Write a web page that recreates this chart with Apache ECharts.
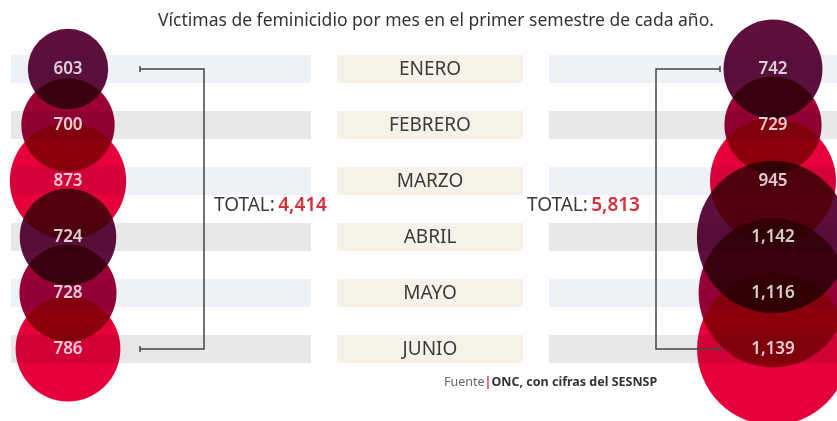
<!DOCTYPE html>
<html>
<head>
<meta charset="utf-8">
<script src="https://cdn.jsdelivr.net/npm/echarts@6/dist/echarts.min.js"></script>
<style>
  html, body { margin: 0; padding: 0; background: #fff; }
  #chart { width: 837px; height: 421px; }
</style>
</head>
<body>
<div id="chart"></div>
<script>
const meses = ['ENERO', 'FEBRERO', 'MARZO', 'ABRIL', 'MAYO', 'JUNIO'];
const victimasIzq = [603, 700, 873, 724, 728, 786];
const victimasDer = [742, 729, 945, 1142, 1116, 1139];
const coloresCirculo = ['#5e0f3e', '#9c0037', '#e5003b'];

const totalIzq = victimasIzq.reduce((a, b) => a + b, 0);
const totalDer = victimasDer.reduce((a, b) => a + b, 0);
const fmt = v => v.toLocaleString('en-US');

// columnas (en px, eje x va de 0 a 837)
const X_IZQ = 68, X_DER = 773;
const FONT = '"Noto Sans", sans-serif';

const myChart = echarts.init(document.getElementById('chart'));

function circulos(valores, x) {
  return valores.map((v, i) => ({
    value: [x, i],
    symbolSize: v / 7.5,
    itemStyle: { color: coloresCirculo[i % 3], opacity: 1 }
  }));
}
function etiquetas(valores, x) {
  return valores.map((v, i) => ({ value: [x, i], num: v }));
}

const option = {
  animation: false,
  grid: { left: 0, right: 0, top: 41, height: 336 },
  xAxis: { type: 'value', min: 0, max: 837, show: false },
  yAxis: { type: 'category', data: meses, inverse: true, show: false },
  title: {
    text: 'Víctimas de feminicidio por mes en el primer semestre de cada año.',
    left: 431, top: 7, textAlign: 'center',
    textStyle: { fontFamily: FONT, fontSize: 17.5, fontWeight: 'normal', color: '#333' }
  },
  series: [
    {
      type: 'custom',
      z: 1,
      data: meses.map((m, i) => [0, i]),
      renderItem: function (params, api) {
        const i = params.dataIndex;
        const y = api.coord([0, i])[1];
        const h = 28;
        const banda = i % 2 === 0 ? '#eef2f6' : '#e8e8e8';
        return {
          type: 'group',
          children: [
            { type: 'rect', shape: { x: 11, y: y - h / 2, width: 300, height: h }, style: { fill: banda } },
            { type: 'rect', shape: { x: 337, y: y - h / 2, width: 186, height: h }, style: { fill: '#f6f2e7' } },
            { type: 'rect', shape: { x: 549, y: y - h / 2, width: 288, height: h }, style: { fill: banda } },
            {
              type: 'text',
              style: {
                x: 430, y: y + 1, text: meses[i], align: 'center', verticalAlign: 'middle',
                fontFamily: FONT, fontSize: 19, fill: '#3a3a3a'
              }
            }
          ]
        };
      }
    },
    {
      type: 'scatter',
      z: 2,
      blendMode: 'multiply',
      symbol: 'circle',
      data: circulos(victimasIzq, X_IZQ).concat(circulos(victimasDer, X_DER))
    },
    {
      type: 'scatter',
      z: 3,
      symbolSize: 1,
      itemStyle: { color: 'rgba(0,0,0,0)' },
      label: {
        show: true, position: 'inside',
        formatter: p => fmt(p.data.num),
        color: '#fff', fontSize: 17, fontWeight: 600,
        fontFamily: FONT
      },
      data: etiquetas(victimasIzq, X_IZQ).concat(etiquetas(victimasDer, X_DER))
    }
  ]
};

myChart.setOption(option);

// corchetes, totales y fuente
const yTop = myChart.convertToPixel({ seriesIndex: 1 }, [0, 0])[1];
const yBot = myChart.convertToPixel({ seriesIndex: 1 }, [0, meses.length - 1])[1];
const yMid = (yTop + yBot) / 2;
const lineStyle = { stroke: '#444', lineWidth: 1.5, fill: null };

const totalRich = {
  t: { fontFamily: FONT, fontSize: 19, fill: '#3a3a3a' },
  n: { fontFamily: FONT, fontSize: 19, fontWeight: 600, fill: '#d6303b' }
};

myChart.setOption({
  graphic: [
    { type: 'polyline', z: 10, shape: { points: [[140, yTop], [204, yTop], [204, yBot], [140, yBot]] }, style: lineStyle },
    { type: 'line', z: 10, shape: { x1: 140, y1: yTop - 3, x2: 140, y2: yTop + 3 }, style: lineStyle },
    { type: 'line', z: 10, shape: { x1: 140, y1: yBot - 3, x2: 140, y2: yBot + 3 }, style: lineStyle },
    { type: 'polyline', z: 10, shape: { points: [[720, yTop], [656, yTop], [656, yBot], [720, yBot]] }, style: lineStyle },
    { type: 'line', z: 10, shape: { x1: 720, y1: yTop - 3, x2: 720, y2: yTop + 3 }, style: lineStyle },
    { type: 'line', z: 10, shape: { x1: 720, y1: yBot - 3, x2: 720, y2: yBot + 3 }, style: lineStyle },
    {
      type: 'text', z: 10, left: 214, top: yMid - 13,
      style: { text: '{t|TOTAL:} {n|' + fmt(totalIzq) + '}', rich: totalRich }
    },
    {
      type: 'text', z: 10, left: 527, top: yMid - 13,
      style: { text: '{t|TOTAL:} {n|' + fmt(totalDer) + '}', rich: totalRich }
    },
    {
      type: 'text', z: 10, left: 444, top: 376,
      style: {
        text: '{a|Fuente}{b||}{c|ONC, con cifras del SESNSP}',
        rich: {
          a: { fontFamily: FONT, fontSize: 12.5, fill: '#666' },
          b: { fontFamily: FONT, fontSize: 12.5, fontWeight: 'bold', fill: '#d6303b' },
          c: { fontFamily: FONT, fontSize: 12.5, fontWeight: 'bold', fill: '#333' }
        }
      }
    }
  ]
});

window.addEventListener('resize', () => myChart.resize());
</script>
</body>
</html>
